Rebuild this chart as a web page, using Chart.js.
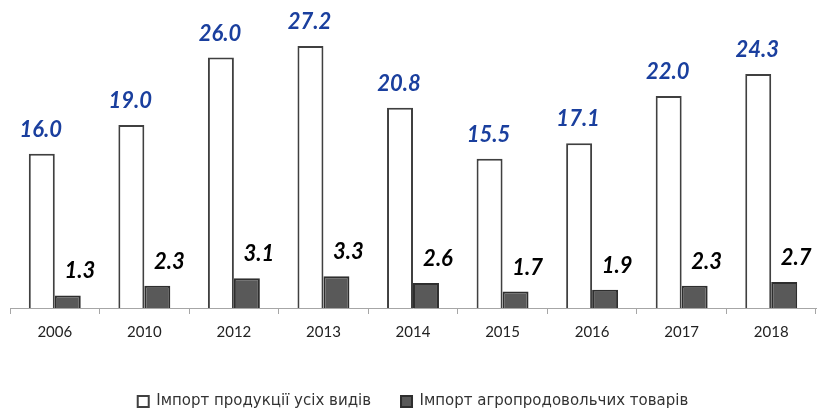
<!DOCTYPE html>
<html>
<head>
<meta charset="utf-8">
<script src="https://cdn.jsdelivr.net/npm/chart.js@4/dist/chart.umd.min.js"></script>
<style>
  html, body { margin: 0; padding: 0; background: #fff; }
  #wrap { width: 818px; height: 409px; }
</style>
</head>
<body>
<div id="wrap"><canvas id="chart"></canvas></div>
<script>
const years = ['2006', '2010', '2012', '2013', '2014', '2015', '2016', '2017', '2018'];
const importAll = [16.0, 19.0, 26.0, 27.2, 20.8, 15.5, 17.1, 22.0, 24.3];
const importAgro = [1.3, 2.3, 3.1, 3.3, 2.6, 1.7, 1.9, 2.3, 2.7];

// підписи значень над стовпчиками
const valueLabels = {
    id: 'valueLabels',
    afterDatasetsDraw(chart) {
        const ctx = chart.ctx;
        ctx.save();
        ctx.textAlign = 'center';
        ctx.textBaseline = 'alphabetic';
        chart.data.datasets.forEach((ds, i) => {
            const meta = chart.getDatasetMeta(i);
            ctx.fillStyle = i === 0 ? '#1a3f9e' : '#000000';
            ctx.font = 'italic bold 22px Lato';
            const dx = i === 0 ? -1 : 12;
            meta.data.forEach((bar, j) => {
                ctx.fillText(ds.data[j].toFixed(1), bar.x + dx, bar.y - 17);
            });
        });
        ctx.restore();
    }
};

new Chart(document.getElementById('chart'), {
    type: 'bar',
    data: {
        labels: years,
        datasets: [{
            label: 'Імпорт продукції усіх видів',
            data: importAll,
            backgroundColor: '#ffffff',
            borderColor: '#404040',
            borderWidth: 2,
            categoryPercentage: 0.58,
            barPercentage: 1
        }, {
            label: 'Імпорт агропродовольчих товарів',
            data: importAgro,
            backgroundColor: '#595959',
            borderColor: '#2e2e2e',
            borderWidth: 2,
            categoryPercentage: 0.58,
            barPercentage: 1
        }]
    },
    options: {
        responsive: true,
        maintainAspectRatio: false,
        animation: false,
        layout: { padding: { top: 19, left: 10, right: 2, bottom: -10 } },
        plugins: {
            tooltip: { enabled: false },
            legend: {
                position: 'bottom',
                labels: {
                    boxWidth: 11,
                    boxHeight: 11,
                    padding: 30,
                    color: '#333333',
                    font: { family: 'DejaVu Sans', size: 15 }
                }
            }
        },
        scales: {
            x: {
                grid: { drawOnChartArea: false, color: '#a6a6a6', tickLength: 6, offset: true },
                border: { color: '#a6a6a6' },
                ticks: { color: '#222', font: { family: 'Lato', size: 15 }, padding: 9 },
                afterFit: s => { s.height = 56; }
            },
            y: {
                display: false,
                min: 0,
                max: 30
            }
        }
    },
    plugins: [valueLabels]
});
</script>
</body>
</html>
